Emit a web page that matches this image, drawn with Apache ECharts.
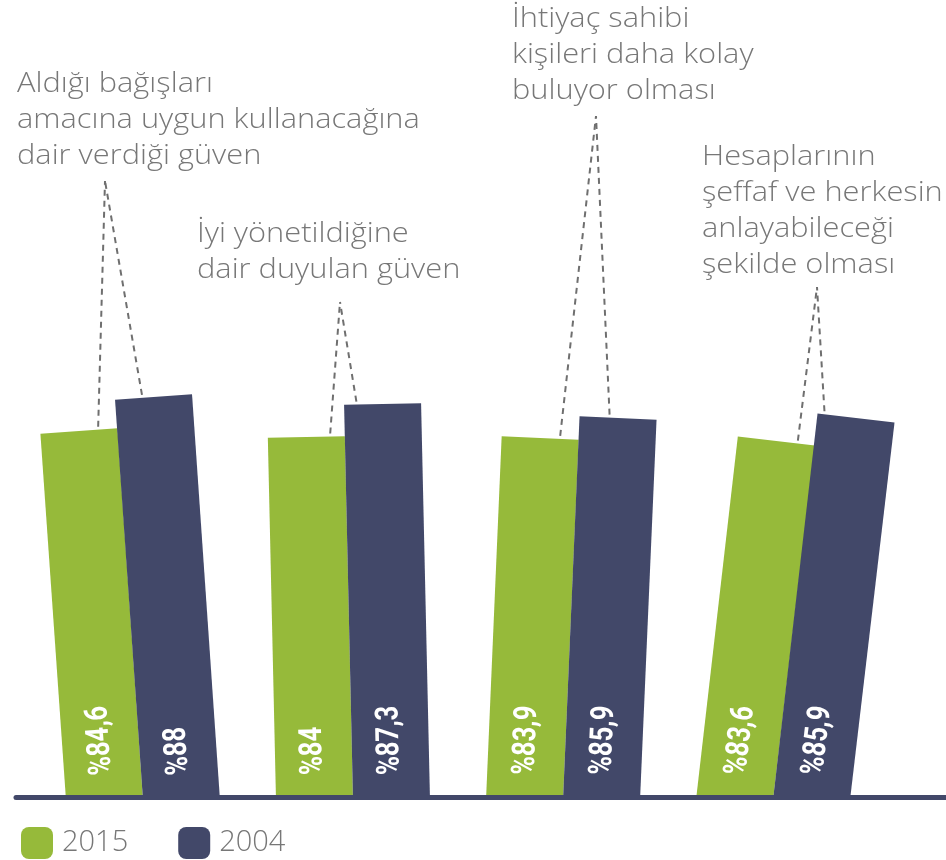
<!DOCTYPE html>
<html>
<head>
<meta charset="UTF-8">
<title>Bağış güveni 2015 / 2004</title>
<style type="text/css">
  html, body { margin: 0; padding: 0; background: #fff; }
  #chart { width: 946px; height: 860px; }
</style>
<script src="https://cdn.jsdelivr.net/npm/echarts@6/dist/echarts.min.js"></script>
</head>
<body>
<div id="chart"></div>
<script>
// veriler
var categories = [
  'Aldığı bağışları\namacına uygun kullanacağına\ndair verdiği güven',
  'İyi yönetildiğine\ndair duyulan güven',
  'İhtiyaç sahibi\nkişileri daha kolay\nbuluyor olması',
  'Hesaplarının\nşeffaf ve herkesin\nanlayabileceği\nşekilde olması'
];
var values2015 = [84.6, 84, 83.9, 83.6];
var values2004 = [88, 87.3, 85.9, 85.9];
var seriesNames = ['2015', '2004'];

// görünüm ayarları (veri değil)
var colors = ['#96ba3a', '#424869'];
var yMin = 48, yMax = 100;
var barW = 77;
var tilt = [-4.0, -1.3, 2.5, 6.7];          // derece, her grup hafif eğik
var apex = [[-38, 181], [-13, 302], [33, 116], [44, 287]];   // kesikli çizgilerin buluştuğu nokta
var leaderAt = [[0.75, 0.35], [0.81, 0.16], [0.76, 0.39], [0.78, 0.09]];
var notePos = [[17, 66], [197, 216], [512, 1], [702, 139]];

var chart = echarts.init(document.getElementById('chart'));

function barGeom(api, i, v, side) {
  var top = api.coord([i, v]);
  var base = api.coord([i, yMin]);
  var t = Math.tan(tilt[i] * Math.PI / 180);
  var h = base[1] - top[1];
  var bx = base[0] + (side < 0 ? -barW : 0);
  var x0 = bx + h * t;
  return {
    t: t, base: base[1], bx: bx,
    tl: [x0, top[1] - barW / 2 * t],
    tr: [x0 + barW, top[1] + barW / 2 * t]
  };
}

function barRenderer(side) {
  return function (params, api) {
    var i = api.value(0), v = api.value(1);
    var g = barGeom(api, i, v, side);
    var lx = g.bx + barW / 2 + g.t * 22;
    return {
      type: 'group',
      children: [{
        type: 'polygon',
        shape: { points: [[g.bx, g.base + 3], [g.bx + barW, g.base + 3], g.tr, g.tl] },
        style: { fill: colors[side < 0 ? 0 : 1] }
      }, {
        type: 'text',
        x: lx, y: g.base - 22,
        rotation: Math.PI / 2 - tilt[i] * Math.PI / 180,
        scaleX: 0.8,
        style: {
          text: '%' + String(v).replace('.', ','),
          fill: '#fff',
          font: 'bold 32px Roboto, sans-serif',
          align: 'left', verticalAlign: 'middle'
        },
        z2: 10
      }]
    };
  };
}

function noteRenderer(params, api) {
  var i = api.value(0);
  var g1 = barGeom(api, i, values2015[i], -1);
  var g2 = barGeom(api, i, values2004[i], 1);
  var cx = api.coord([i, yMin])[0];
  var ax = cx + apex[i][0], ay = apex[i][1];
  function onTop(g, f) {
    return [g.tl[0] + f * (g.tr[0] - g.tl[0]), g.tl[1] + f * (g.tr[1] - g.tl[1]) - 3];
  }
  var p1 = onTop(g1, leaderAt[i][0]);
  var p2 = onTop(g2, leaderAt[i][1]);
  var dash = { stroke: '#6f6f6f', lineWidth: 2, lineDash: [6, 5] };
  return {
    type: 'group',
    children: [
      { type: 'line', shape: { x1: p1[0], y1: p1[1], x2: ax, y2: ay }, style: dash },
      { type: 'line', shape: { x1: p2[0], y1: p2[1], x2: ax, y2: ay }, style: dash },
      {
        type: 'text', x: notePos[i][0], y: notePos[i][1],
        scaleX: 1.1,
        style: {
          text: categories[i], fill: '#777',
          font: '300 28px "Open Sans", sans-serif',
          lineHeight: 36, align: 'left', verticalAlign: 'top'
        }
      }
    ]
  };
}

var option = {
  animation: false,
  grid: { left: 38, right: 68, top: 277, bottom: 63 },
  xAxis: {
    type: 'category',
    data: categories,
    show: false
  },
  yAxis: {
    type: 'value', min: yMin, max: yMax, show: false
  },
  legend: {
    data: seriesNames,
    left: 16, top: 822,
    icon: 'roundRect',
    itemWidth: 32, itemHeight: 32, itemGap: 50,
    textStyle: { fontSize: 29, fontWeight: 300, color: '#777', fontFamily: '"Open Sans", sans-serif', padding: [0, 0, 0, 4] }
  },
  graphic: [{
    type: 'line',
    shape: { x1: 16, y1: 797.5, x2: 946, y2: 797.5 },
    style: { stroke: colors[1], lineWidth: 5, lineCap: 'round' },
    z: 100
  }],
  series: [{
    name: seriesNames[0], type: 'custom', clip: false,
    itemStyle: { color: colors[0] },
    renderItem: barRenderer(-1),
    data: values2015.map(function (v, i) { return [i, v]; })
  }, {
    name: seriesNames[1], type: 'custom', clip: false,
    itemStyle: { color: colors[1] },
    renderItem: barRenderer(1),
    data: values2004.map(function (v, i) { return [i, v]; })
  }, {
    type: 'custom', clip: false, silent: true,
    renderItem: noteRenderer,
    data: values2004.map(function (v, i) { return [i, v]; })
  }]
};

chart.setOption(option);
</script>
</body>
</html>
